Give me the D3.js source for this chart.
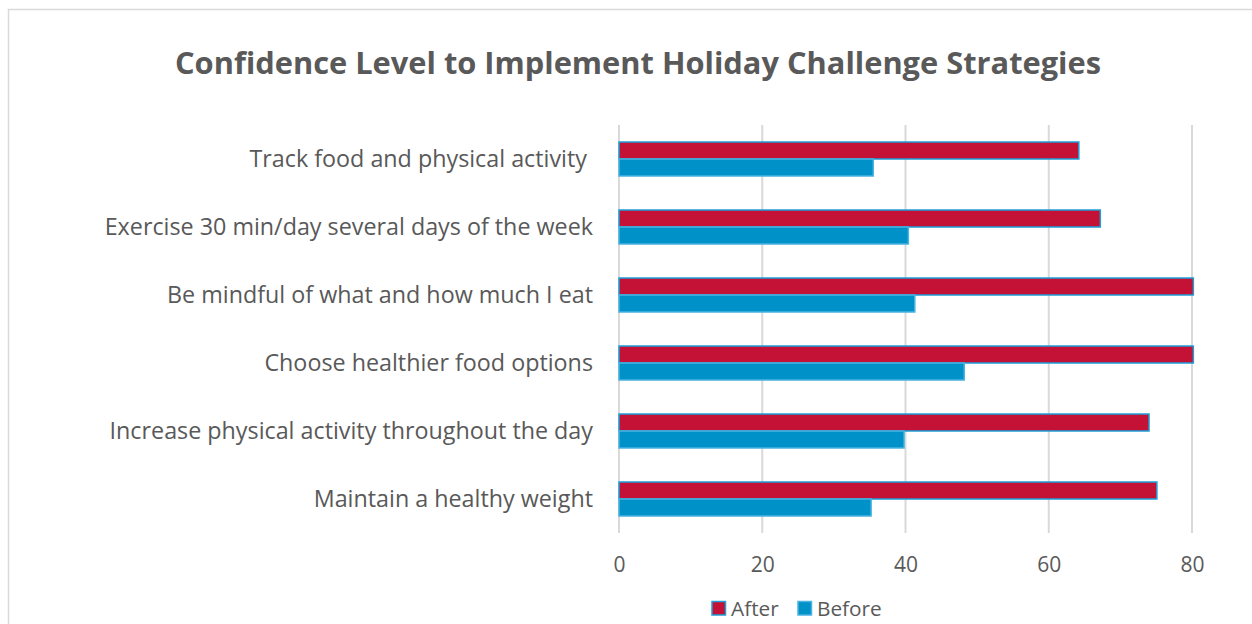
<!DOCTYPE html>
<html><head><meta charset="utf-8">
<script src="https://cdn.jsdelivr.net/npm/d3@7"></script>
<style>body{margin:0;background:#fff;} svg{display:block;font-family:"Open Sans",sans-serif;}</style>
</head><body>
<svg id="c" width="1252" height="624"></svg>
<script>
const title = "Confidence Level to Implement Holiday Challenge Strategies";
const categories = [
  "Track food and physical activity ",
  "Exercise 30 min/day several days of the week",
  "Be mindful of what and how much I eat",
  "Choose healthier food options",
  "Increase physical activity throughout the day",
  "Maintain a healthy weight"
];
const seriesNames = ["After", "Before"];
const afterValues = [64.2, 67.2, 82, 84, 74.0, 75.1];
const beforeValues = [35.5, 40.4, 41.3, 48.2, 39.8, 35.2];
const xTicks = [0, 20, 40, 60, 80];
const colors = {After: "#C41236", Before: "#0091C9"};
const strokes = {After: "#1E9FD8", Before: "#49B3E2"};

const svg = d3.select("#c");
const W = 1252, H = 624;

// outer frame
svg.append("rect").attr("x", 8.5).attr("y", 9.5).attr("width", W).attr("height", H)
  .attr("fill", "none").attr("stroke", "#d9d9d9").attr("stroke-width", 1.5);

svg.append("text").attr("x", 638).attr("y", 74).attr("text-anchor", "middle")
  .attr("font-size", 30.8).attr("font-weight", "bold").attr("fill", "#595959").text(title);

const x = d3.scaleLinear().domain([0, 80]).range([619, 1192]);
const y = d3.scaleBand().domain(categories).range([125, 533]).paddingInner(0.5).paddingOuter(0.25);
const ys = d3.scaleBand().domain(seriesNames).range([0, y.bandwidth()]);

// gridlines
svg.append("g").selectAll("line").data(xTicks).join("line")
  .attr("x1", d => x(d)).attr("x2", d => x(d)).attr("y1", 125).attr("y2", 533)
  .attr("stroke", "#d9d9d9").attr("stroke-width", 2);

// x tick labels
const xAxis = svg.append("g").attr("transform", "translate(0,533)")
  .call(d3.axisBottom(x).tickValues(xTicks).tickSize(0).tickPadding(24));
xAxis.select(".domain").remove();
xAxis.selectAll("text").attr("font-size", 21).attr("fill", "#595959").attr("font-family", "Open Sans");

// category labels
const yAxis = svg.append("g").attr("transform", "translate(593,1)")
  .call(d3.axisLeft(y).tickSize(0).tickPadding(0));
yAxis.select(".domain").remove();
yAxis.selectAll("text").attr("font-size", 23.3).attr("fill", "#595959")
  .attr("font-family", "Open Sans").style("white-space", "pre");

// bars
svg.append("defs").append("clipPath").attr("id", "clip")
  .append("rect").attr("x", 600).attr("y", 100).attr("width", x(80) - 600 + 2.5).attr("height", 460);

const data = categories.map((c, i) => ({c, After: afterValues[i], Before: beforeValues[i]}));
const g = svg.append("g").attr("clip-path", "url(#clip)");
seriesNames.forEach(s => {
  g.selectAll(null).data(data).join("rect")
    .attr("x", x(0))
    .attr("y", d => y(d.c) + ys(s))
    .attr("width", d => x(Math.min(d[s], 80.2)) - x(0))
    .attr("height", ys.bandwidth())
    .attr("fill", colors[s]).attr("stroke", strokes[s]).attr("stroke-width", 1.5);
});

// legend
const leg = svg.append("g");
const legX = {After: 711, Before: 797};
seriesNames.forEach(s => {
  leg.append("rect").attr("x", legX[s] + 1).attr("y", 601.5).attr("width", 13.5).attr("height", 13.5)
    .attr("fill", colors[s]).attr("stroke", strokes[s]).attr("stroke-width", 1.5);
  leg.append("text").attr("x", legX[s] + 20).attr("y", 615.5).attr("font-size", 20.8)
    .attr("fill", "#595959").text(s);
});
</script>
</body></html>
